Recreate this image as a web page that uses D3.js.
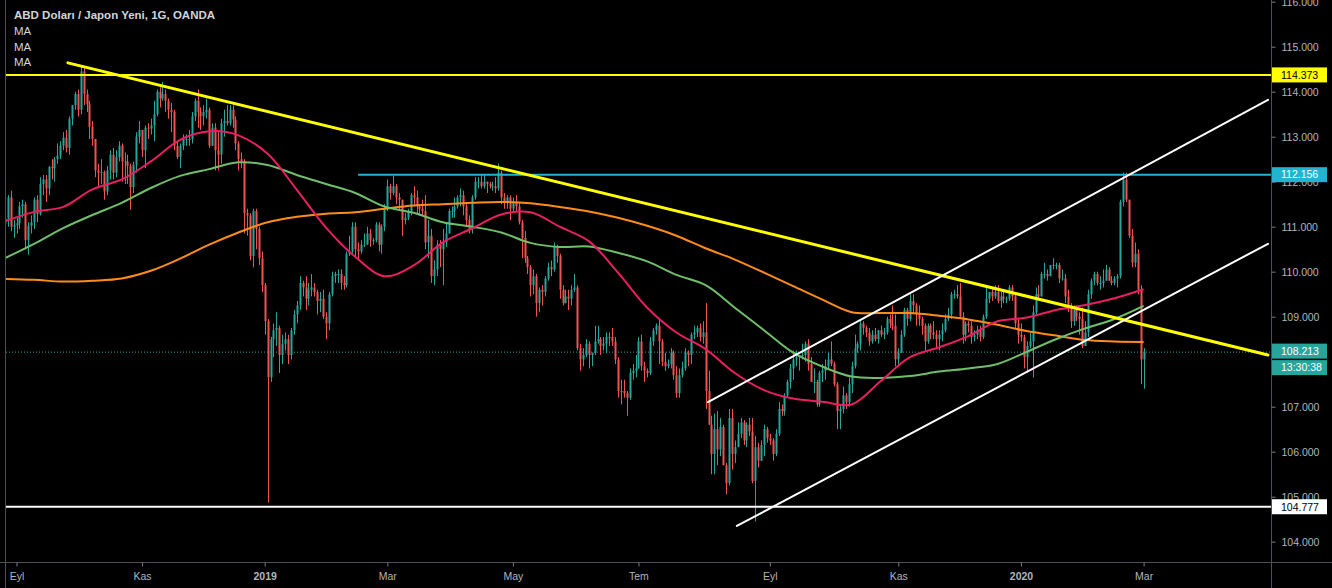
<!DOCTYPE html>
<html><head><meta charset="utf-8">
<script src="https://cdn.jsdelivr.net/npm/d3@7/dist/d3.min.js"></script>
<style>html,body{margin:0;padding:0;background:#000;overflow:hidden}</style>
</head><body><svg id="c" width="1332" height="588"></svg>
<script>
// ---------- DATA ----------
const startDate = "2018-08-28";
const holidays = ["2018-12-25","2019-01-01","2019-12-25","2020-01-01"];
const opens = [
111.08,111.18,111.65,111.00,
111.03,111.08,111.45,111.50,110.70,
111.02,111.10,111.60,111.28,111.95,
112.05,111.85,112.33,112.30,112.50,
112.58,112.80,112.98,112.75,113.40,
113.70,113.95,113.60,114.45,113.95,
113.72,113.22,112.95,112.25,112.20,
112.22,111.78,112.25,112.60,112.20,
112.55,112.80,112.45,112.45,112.35,
111.88,112.38,113.00,113.15,112.70,
113.20,113.18,113.25,113.50,114.00,
113.85,113.95,113.80,113.60,113.55,
112.80,112.55,112.80,112.95,112.95,
112.95,113.45,113.80,113.55,113.45,
113.55,113.60,112.80,113.20,112.70,
112.60,113.30,113.35,113.30,113.60,
113.38,112.85,112.50,112.45,111.30,
111.25,110.35,111.35,110.95,
110.30,109.70,108.90,107.65,
108.50,108.70,108.75,108.15,108.40,
108.50,108.15,108.70,109.05,109.25,
109.75,109.65,109.40,109.60,109.65,
109.55,109.35,109.40,109.00,108.85,
109.50,109.90,109.95,109.95,109.75,
109.70,110.40,110.45,111.00,110.50,
110.45,110.60,110.60,110.85,110.70,
110.70,111.05,110.60,111.00,111.40,
111.90,111.75,111.90,111.65,111.60,
111.15,111.20,111.35,111.70,111.65,
111.45,111.40,111.35,110.65,110.80,
109.90,110.05,110.60,110.50,110.65,
110.85,111.35,111.35,111.45,111.65,
111.70,111.45,111.15,110.95,111.65,
112.00,112.00,111.90,112.00,111.95,
111.90,111.90,111.85,112.20,111.65,
111.55,111.65,111.40,111.55,111.45,
111.10,110.75,110.30,110.10,109.70,
109.90,109.30,109.60,109.55,109.85,
110.10,110.05,110.55,110.35,109.60,
109.30,109.45,109.40,109.60,109.65,
108.30,108.05,108.15,108.40,108.15,
108.20,108.45,108.50,108.35,108.40,
108.55,108.55,108.45,108.05,107.35,
107.35,107.30,107.20,107.75,107.80,
107.85,108.45,107.90,107.80,107.75,
108.45,108.70,108.80,108.45,108.00,
107.90,107.95,108.20,107.70,107.30,
107.70,107.85,108.20,108.15,108.60,
108.65,108.75,108.55,108.65,107.35,
106.60,105.95,106.50,106.05,106.55,
105.70,105.30,106.75,105.95,106.10,
106.40,106.65,106.25,106.60,106.45,
105.35,106.10,105.80,106.15,106.50,
106.30,106.25,105.95,106.40,106.95,
106.90,107.25,107.55,107.85,108.05,
108.10,108.15,108.15,108.40,107.95,
107.55,107.55,107.05,107.75,107.80,
107.90,108.05,107.95,107.50,106.90,
106.95,107.25,107.10,107.50,107.90,
108.30,108.40,108.85,108.75,108.65,
108.45,108.60,108.50,108.70,108.60,
108.65,108.95,108.85,108.80,108.05,
108.20,108.60,109.15,108.95,109.35,
109.25,109.05,108.95,108.80,108.45,
108.80,108.65,108.60,108.50,108.60,
108.70,108.95,109.05,109.50,109.50,
109.45,109.00,108.60,108.85,108.80,
108.55,108.60,108.70,108.55,109.00,
109.40,109.55,109.45,109.55,109.35,
109.45,109.40,109.40,109.65,
109.45,108.85,108.60,108.55,
108.10,108.35,108.45,109.10,109.50,
109.45,109.95,109.95,109.90,110.15,
110.15,110.15,109.85,109.85,109.45,
109.25,108.90,109.15,109.00,108.95,
108.35,108.65,109.50,109.80,109.95,
109.75,109.75,109.80,110.05,109.80,
109.75,109.85,109.90,111.55,112.05,
111.60,110.80,110.20,110.40,109.60,
108.05];
const highs = [
111.22,111.70,111.80,111.15,
111.20,111.55,111.60,111.55,111.10,
111.25,111.65,111.70,112.10,112.15,
112.15,112.35,112.50,112.55,112.85,
112.90,113.10,113.15,113.45,113.70,
114.00,114.05,114.55,114.55,114.05,
113.80,113.35,112.95,112.40,112.50,
112.25,112.35,112.70,112.75,112.70,
112.90,112.85,112.65,112.60,112.40,
112.45,113.10,113.35,113.15,113.25,
113.30,113.40,113.80,114.05,114.10,
114.22,114.05,113.85,113.75,113.60,
112.90,112.85,113.05,113.05,113.15,
113.55,113.85,114.05,113.65,113.70,
113.85,113.65,113.30,113.30,113.10,
113.40,113.60,113.70,113.70,113.70,
113.45,112.90,112.65,112.50,111.40,
111.30,111.40,111.40,111.00,
110.45,109.75,108.95,108.55,
108.85,109.10,108.80,108.60,108.65,
108.60,108.75,109.15,109.35,109.90,
109.80,109.90,109.75,109.95,109.75,
109.60,109.55,109.60,109.10,109.55,
110.00,110.00,110.05,110.05,109.90,
110.45,110.80,111.10,111.10,110.65,
110.70,110.85,111.00,110.95,110.75,
111.10,111.10,111.05,111.50,112.05,
111.95,112.13,111.95,111.75,111.60,
111.30,111.40,111.75,111.90,111.80,
111.50,111.60,111.70,111.15,110.95,
110.25,110.70,110.70,110.95,111.10,
111.40,111.45,111.65,111.70,111.85,
111.80,111.50,111.25,111.70,112.10,
112.10,112.15,112.15,112.00,112.00,
112.00,112.10,112.40,112.25,111.75,
111.70,111.70,111.65,111.70,111.55,
111.15,110.90,110.35,110.15,110.05,
109.95,109.65,109.70,109.90,110.20,
110.25,110.65,110.60,110.40,109.70,
109.60,109.60,109.70,109.95,109.70,
108.40,108.30,108.50,108.45,108.20,
108.80,108.80,108.55,108.55,108.65,
108.65,108.75,108.55,108.10,107.60,
107.60,107.35,107.85,107.95,108.15,
108.55,108.60,108.00,107.85,108.55,
108.75,108.85,108.95,108.50,108.20,
108.05,108.30,108.25,107.90,107.85,
108.00,108.30,108.25,108.65,108.80,
108.80,108.85,108.90,109.30,107.80,
106.80,106.85,106.90,106.75,106.60,
105.75,106.95,106.95,106.25,106.65,
106.75,106.70,106.65,106.75,106.75,
106.35,106.20,106.25,106.60,106.55,
106.40,106.30,106.50,107.10,107.05,
107.30,107.60,107.95,108.25,108.25,
108.15,108.40,108.45,108.50,108.10,
107.85,107.60,107.80,107.95,108.05,
108.20,108.45,108.00,107.55,107.05,
107.45,107.30,107.65,108.00,108.60,
108.45,108.90,108.90,108.80,108.75,
108.70,108.75,108.70,108.80,108.75,
109.00,109.05,109.25,109.05,108.30,
108.70,109.20,109.20,109.50,109.50,
109.30,109.25,109.00,108.85,108.85,
108.85,108.90,108.70,108.70,108.85,
109.05,109.20,109.55,109.60,109.70,
109.75,109.10,108.90,108.90,108.90,
108.70,108.80,108.80,109.05,109.70,
109.55,109.65,109.70,109.70,109.55,
109.55,109.45,109.70,109.70,
109.50,108.95,108.85,108.60,
108.45,108.65,109.25,109.65,109.70,
110.00,110.20,110.05,110.15,110.30,
110.20,110.20,110.05,109.95,109.60,
109.30,109.25,109.25,109.10,109.20,
108.90,109.60,109.85,110.00,110.00,
109.90,110.05,110.15,110.10,109.90,
109.90,109.95,111.60,112.20,112.20,
111.60,110.95,110.65,110.50,109.70,
108.30];
const lows = [
110.90,111.00,110.90,110.75,
110.85,110.95,111.20,110.50,110.38,
110.85,110.95,111.10,111.25,111.70,
111.55,111.70,112.05,112.00,112.40,
112.50,112.70,112.65,112.60,113.25,
113.60,113.45,113.50,113.70,113.55,
112.95,112.80,112.10,111.85,111.95,
111.60,111.70,112.05,112.05,112.10,
112.45,112.00,111.95,111.95,111.38,
111.75,112.20,112.85,112.55,112.30,
112.95,113.05,112.90,113.45,113.65,
113.80,113.55,113.40,113.10,112.70,
112.50,112.30,112.70,112.80,112.80,
112.85,113.35,113.20,113.15,113.25,
113.40,112.75,112.80,112.25,112.25,
112.40,113.00,113.25,113.25,113.20,
112.70,112.25,112.30,110.85,110.80,
110.25,110.10,110.50,110.15,
109.55,108.60,104.87,107.55,
108.10,108.35,107.75,107.95,108.25,
107.95,108.05,108.60,108.85,109.15,
109.45,109.15,109.25,109.45,109.45,
109.05,109.10,108.95,108.50,108.70,
109.45,109.75,109.75,109.60,109.60,
109.65,110.35,110.40,110.30,110.30,
110.40,110.55,110.60,110.55,110.60,
110.65,110.45,110.40,110.90,111.35,
111.60,111.70,111.50,111.35,110.80,
111.05,111.15,111.25,111.45,111.30,
111.25,111.25,110.50,110.30,109.75,
109.70,109.90,110.10,109.70,110.55,
110.85,111.20,111.20,111.40,111.45,
111.25,111.00,110.85,110.85,111.60,
111.85,111.85,111.85,111.75,111.85,
111.80,111.75,111.80,111.50,111.40,
111.40,111.15,111.35,111.35,111.05,
110.30,110.20,109.95,109.45,109.50,
109.00,109.10,109.25,109.45,109.80,
109.90,110.00,110.20,109.40,109.25,
109.30,109.15,109.25,109.55,108.25,
107.80,107.90,108.10,107.85,107.90,
108.15,108.40,108.15,108.25,108.20,
108.35,108.35,107.95,107.20,107.05,
107.20,106.80,107.15,107.60,107.65,
107.85,107.80,107.55,107.65,107.70,
108.35,108.60,107.95,107.90,107.80,
107.85,107.85,107.60,107.20,107.20,
107.65,107.80,107.90,107.95,108.50,
108.55,108.45,108.40,106.95,106.60,
105.50,105.50,105.70,105.90,105.70,
105.05,105.25,105.60,105.75,106.10,
106.30,106.15,106.10,106.35,105.30,
104.45,105.65,105.80,105.90,106.20,
106.15,105.80,105.90,106.35,106.80,
106.80,107.20,107.40,107.60,107.90,
107.80,108.05,108.00,107.80,107.55,
107.30,107.00,107.00,107.55,107.60,
107.85,107.90,107.45,106.50,106.50,
106.85,106.95,107.00,107.30,107.85,
108.20,108.25,108.60,108.55,108.35,
108.40,108.45,108.40,108.55,108.50,
108.60,108.75,108.70,107.90,107.90,
108.20,108.55,108.80,108.90,109.05,
108.80,108.80,108.60,108.25,108.40,
108.50,108.50,108.30,108.25,108.45,
108.65,108.90,108.95,109.40,109.40,
108.95,108.40,108.45,108.65,108.40,
108.45,108.50,108.45,108.50,108.95,
109.30,109.35,109.40,109.30,109.20,
109.30,109.30,109.35,109.35,
108.75,108.40,108.45,107.85,
107.75,108.30,107.65,109.05,109.40,
109.45,109.85,109.80,109.90,110.05,
110.05,109.75,109.80,109.30,109.10,
108.75,108.80,108.90,108.60,108.30,
108.35,108.55,109.40,109.70,109.70,
109.60,109.65,109.80,109.80,109.70,
109.70,109.65,109.85,111.45,111.55,
110.75,110.10,110.10,109.50,107.50,
107.40];
const closes = [
111.18,111.65,111.00,111.03,
111.08,111.45,111.50,110.70,111.02,
111.10,111.60,111.28,111.95,112.05,
111.85,112.33,112.30,112.50,112.58,
112.80,112.98,112.75,113.40,113.70,
113.95,113.60,114.45,113.95,113.72,
113.22,112.95,112.25,112.20,112.22,
111.78,112.25,112.60,112.20,112.55,
112.80,112.45,112.45,112.35,111.88,
112.38,113.00,113.15,112.70,113.20,
113.18,113.25,113.50,114.00,113.85,
113.95,113.80,113.60,113.55,112.80,
112.55,112.80,112.95,112.95,112.95,
113.45,113.80,113.55,113.45,113.55,
113.60,112.80,113.20,112.70,112.60,
113.30,113.35,113.30,113.60,113.38,
112.85,112.50,112.45,111.30,111.25,
110.35,111.35,110.95,110.30,
109.70,108.90,107.65,108.50,
108.70,108.75,108.15,108.40,108.50,
108.15,108.70,109.05,109.25,109.75,
109.65,109.40,109.60,109.65,109.55,
109.35,109.40,109.00,108.85,109.50,
109.90,109.95,109.95,109.75,109.70,
110.40,110.45,111.00,110.50,110.45,
110.60,110.60,110.85,110.70,110.70,
111.05,110.60,111.00,111.40,111.90,
111.75,111.90,111.65,111.60,111.15,
111.20,111.35,111.70,111.65,111.45,
111.40,111.35,110.65,110.80,109.90,
110.05,110.60,110.50,110.65,110.85,
111.35,111.35,111.45,111.65,111.70,
111.45,111.15,110.95,111.65,112.00,
112.00,111.90,112.00,111.95,111.90,
111.90,111.85,112.20,111.65,111.55,
111.65,111.40,111.55,111.45,111.10,
110.75,110.30,110.10,109.70,109.90,
109.30,109.60,109.55,109.85,110.10,
110.05,110.55,110.35,109.60,109.30,
109.45,109.40,109.60,109.65,108.30,
108.05,108.15,108.40,108.15,108.20,
108.45,108.50,108.35,108.40,108.55,
108.55,108.45,108.05,107.35,107.35,
107.30,107.20,107.75,107.80,107.85,
108.45,107.90,107.80,107.75,108.45,
108.70,108.80,108.45,108.00,107.90,
107.95,108.20,107.70,107.30,107.70,
107.85,108.20,108.15,108.60,108.65,
108.75,108.55,108.65,107.35,106.60,
105.95,106.50,106.05,106.55,105.70,
105.30,106.75,105.95,106.10,106.40,
106.65,106.25,106.60,106.45,105.35,
106.10,105.80,106.15,106.50,106.30,
106.25,105.95,106.40,106.95,106.90,
107.25,107.55,107.85,108.05,108.10,
108.15,108.15,108.40,107.95,107.55,
107.55,107.05,107.75,107.80,107.90,
108.05,107.95,107.50,106.90,106.95,
107.25,107.10,107.50,107.90,108.30,
108.40,108.85,108.75,108.65,108.45,
108.60,108.50,108.70,108.60,108.65,
108.95,108.85,108.80,108.05,108.20,
108.60,109.15,108.95,109.35,109.25,
109.05,108.95,108.80,108.45,108.80,
108.65,108.60,108.50,108.60,108.70,
108.95,109.05,109.50,109.50,109.45,
109.00,108.60,108.85,108.80,108.55,
108.60,108.70,108.55,109.00,109.40,
109.55,109.45,109.55,109.35,109.45,
109.40,109.40,109.65,109.45,
108.85,108.60,108.55,108.10,
108.35,108.45,109.10,109.50,109.45,
109.95,109.95,109.90,110.15,110.15,
110.15,109.85,109.85,109.45,109.25,
108.90,109.15,109.00,108.95,108.35,
108.65,109.50,109.80,109.95,109.75,
109.75,109.80,110.05,109.80,109.75,
109.85,109.90,111.55,112.05,111.60,
110.80,110.20,110.40,109.60,108.05,
108.21];

// moving averages, one value every 10 bars (bar 0,10,...,390)
const maStep = 10;
const maPink = [111.12,111.33,111.44,111.83,112.05,112.45,112.93,113.12,113.03,112.62,
111.82,110.98,110.33,109.90,110.14,110.65,110.96,111.27,111.32,111.00,
110.68,109.98,109.20,108.65,108.28,107.75,107.37,107.18,107.11,107.05,
107.57,108.10,108.32,108.57,108.90,108.98,109.15,109.26,109.41,109.61];
const maGreen = [110.30,110.62,110.97,111.26,111.53,111.86,112.13,112.28,112.43,112.37,
112.15,111.95,111.75,111.45,111.31,111.10,111.00,110.87,110.64,110.55,
110.56,110.42,110.23,109.93,109.70,109.20,108.70,108.20,107.89,107.67,
107.64,107.68,107.78,107.85,107.95,108.22,108.50,108.74,108.95,109.24];
const maOrange = [109.84,109.82,109.78,109.80,109.85,110.02,110.29,110.60,110.87,111.10,
111.22,111.29,111.32,111.40,111.47,111.50,111.53,111.55,111.52,111.44,
111.34,111.20,111.02,110.80,110.52,110.27,109.98,109.68,109.38,109.10,
109.08,109.08,109.02,108.94,108.82,108.68,108.58,108.48,108.45,108.44];

// drawings: [bar index, price]
const yellowTrend = [[21.6,114.64],[432.6,108.15]];
const channelUpper = [[240.8,107.10],[432.6,113.82]];
const channelLower = [[250.7,104.35],[432.6,110.62]];
const levelYellow = 114.373, levelCyan = 112.156, levelWhite = 104.777;
const levelCyanStart = 121;
const lastPrice = 108.213, countdown = "13:30:38";

const priceTicks = [104,105,106,107,108,109,110,111,112,113,114,115,116];
const hiddenTickLabels = [108];   // fully covered by the price/countdown tags in the original
const monthLabels = ["Eyl","Kas","2019","Mar","May","Tem","Eyl","Kas","2020","Mar"];
const monthDates = ["2018-09-03","2018-11-01","2019-01-02","2019-03-01","2019-05-01","2019-07-01","2019-09-02","2019-11-01","2020-01-02","2020-03-02"];
const titleText = "ABD Doları / Japon Yeni, 1G, OANDA";
const legendItems = ["MA","MA","MA"];

// ---------- BUILD ----------
const dates = [];
{ const d = new Date(startDate + "T00:00:00Z");
  while (dates.length < closes.length) {
    const s = d.toISOString().slice(0,10), wd = d.getUTCDay();
    if (wd !== 0 && wd !== 6 && !holidays.includes(s)) dates.push(s);
    d.setUTCDate(d.getUTCDate() + 1);
  } }
const bars = closes.map((c,i)=>({i, date:dates[i], o:opens[i], h:highs[i], l:lows[i], c}));

const W = 1332, H = 588, plotL = 6, plotR = 1271, plotB = 562;
const FONT = "'Liberation Sans', Arial, sans-serif";
const svg = d3.select("#c");
svg.append("rect").attr("width", W).attr("height", H).attr("fill", "#000");

const x = d3.scaleLinear().domain([dates.indexOf("2018-09-03"), dates.indexOf("2020-03-02")]).range([16.5, 1143.6]);
const y = d3.scaleLinear().domain([104, 116]).range([541.7, 1.7]);

svg.append("defs").append("clipPath").attr("id","clip")
  .append("rect").attr("x", plotL).attr("y", 0).attr("width", plotR - plotL).attr("height", plotB);
const g = svg.append("g").attr("clip-path","url(#clip)");

// current price dotted line
g.append("line").attr("x1", plotL).attr("x2", plotR).attr("y1", y(lastPrice)).attr("y2", y(lastPrice))
  .attr("stroke","#26a69a").attr("stroke-width",1).attr("stroke-dasharray","1,2");

const UP = "#26a69a", DN = "#ef5350";
const col = d => d.c >= d.o ? UP : DN;
g.selectAll("line.wick").data(bars).join("line").attr("class","wick")
  .attr("x1", d => Math.round(x(d.i)) + 0.5).attr("x2", d => Math.round(x(d.i)) + 0.5)
  .attr("y1", d => y(d.h)).attr("y2", d => y(d.l)).attr("stroke", col).attr("stroke-width", 1);
g.selectAll("rect.body").data(bars).join("rect").attr("class","body")
  .attr("x", d => Math.round(x(d.i)) - 0.5).attr("width", 2)
  .attr("y", d => y(Math.max(d.o, d.c)))
  .attr("height", d => Math.max(1, Math.abs(y(d.o) - y(d.c))))
  .attr("fill", col);

// moving averages
const maLine = d3.line().x((d,i) => x(i * maStep)).y(d => y(d)).curve(d3.curveCatmullRom);
[[maOrange,"#ff8c1a"],[maGreen,"#6fbf6a"],[maPink,"#e91e63"]].forEach(([arr,c]) => {
  g.append("path").attr("d", maLine(arr)).attr("fill","none").attr("stroke",c).attr("stroke-width",2);
});

// drawings
const seg = (pts, c, w) => g.append("line")
  .attr("x1", x(pts[0][0])).attr("y1", y(pts[0][1])).attr("x2", x(pts[1][0])).attr("y2", y(pts[1][1]))
  .attr("stroke", c).attr("stroke-width", w).attr("stroke-linecap","round");
g.append("line").attr("x1", plotL).attr("x2", plotR).attr("y1", y(levelYellow)).attr("y2", y(levelYellow)).attr("stroke","#ffff00").attr("stroke-width",2);
g.append("line").attr("x1", x(levelCyanStart)).attr("x2", plotR).attr("y1", y(levelCyan)).attr("y2", y(levelCyan)).attr("stroke","#1fb5d0").attr("stroke-width",2);
g.append("line").attr("x1", plotL).attr("x2", plotR).attr("y1", y(levelWhite)).attr("y2", y(levelWhite)).attr("stroke","#ffffff").attr("stroke-width",2);
seg(yellowTrend, "#ffff00", 3);
seg(channelUpper, "#ffffff", 2);
seg(channelLower, "#ffffff", 2);

// frame / axis lines
const AX = "#4d4f57";
svg.append("line").attr("x1", plotR + 0.5).attr("x2", plotR + 0.5).attr("y1", 0).attr("y2", H).attr("stroke", AX);
svg.append("line").attr("x1", 0).attr("x2", W).attr("y1", plotB + 0.5).attr("y2", plotB + 0.5).attr("stroke", AX);
svg.append("line").attr("x1", 5.5).attr("x2", 5.5).attr("y1", 0).attr("y2", H).attr("stroke", AX);

// right axis
const ya = svg.append("g").attr("transform", `translate(${plotR + 0.5},0)`)
  .call(d3.axisRight(y).tickValues(priceTicks).tickFormat(d3.format(".3f")).tickSize(4).tickPadding(6));
ya.select(".domain").remove();
ya.selectAll(".tick line").attr("stroke", "#787b86");
ya.selectAll(".tick text").attr("fill", "#b2b5be").style("font-family", FONT).style("font-size", "10.5px");
ya.selectAll(".tick").filter(d => hiddenTickLabels.includes(d)).select("text").remove();

// bottom axis
const tickIdx = monthDates.map(s => dates.indexOf(s) >= 0 ? dates.indexOf(s) : dates.length);
const xa = svg.append("g").attr("transform", `translate(0,${plotB + 0.5})`)
  .call(d3.axisBottom(x).tickValues(tickIdx).tickFormat((d,i) => monthLabels[i]).tickSize(4).tickPadding(6));
xa.select(".domain").remove();
xa.selectAll(".tick line").attr("stroke", "#787b86");
xa.selectAll(".tick text").attr("fill", "#b2b5be").style("font-family", FONT).style("font-size", "10.5px")
  .style("font-weight", (d,i) => /^\d{4}$/.test(monthLabels[i]) ? "bold" : "normal");

// price labels
const box = (v, text, bg, fg, dyOff) => {
  const cy = y(v) + (dyOff || 0);
  svg.append("rect").attr("x", plotR + 1).attr("y", cy - 7.5).attr("width", 55).attr("height", 15).attr("fill", bg);
  svg.append("text").attr("x", plotR + 10).attr("y", cy).attr("dy", "0.36em").attr("fill", fg)
    .style("font-family", FONT).style("font-size", "10.5px").text(text);
};
box(levelYellow, d3.format(".3f")(levelYellow), "#ffff00", "#000");
box(levelCyan, d3.format(".3f")(levelCyan), "#1fb5d0", "#fff");
box(levelWhite, d3.format(".3f")(levelWhite), "#ffffff", "#000");
box(lastPrice, d3.format(".3f")(lastPrice), "#26a69a", "#fff", -1);
box(lastPrice, countdown, "#26a69a", "#fff", 15.5);

// legend
svg.append("text").attr("x", 14).attr("y", 19).attr("fill", "#d1d4dc")
  .style("font-family", FONT).style("font-size", "11.5px").style("font-weight", "bold").text(titleText);
legendItems.forEach((t,i) => svg.append("text").attr("x", 14).attr("y", 35 + i * 15.5).attr("fill", "#d1d4dc")
  .style("font-family", FONT).style("font-size", "11.5px").text(t));
</script></body></html>
